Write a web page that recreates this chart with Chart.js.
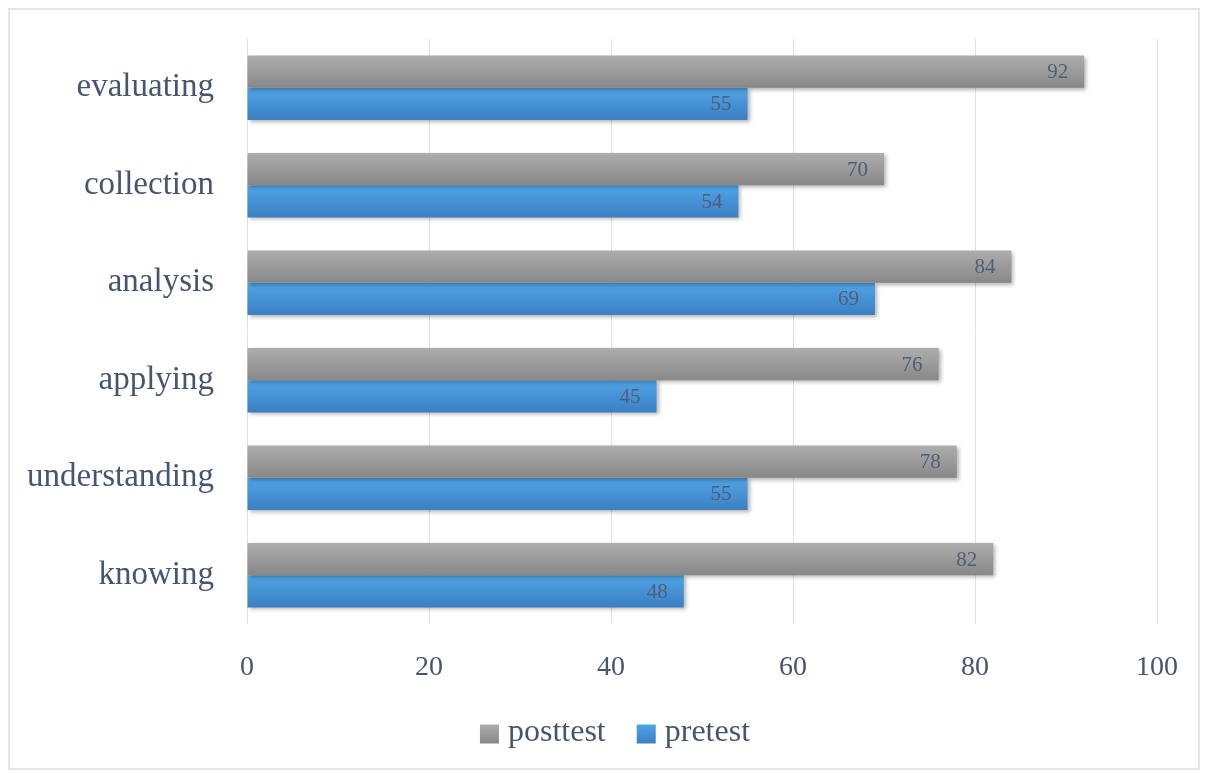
<!DOCTYPE html>
<html>
<head>
<meta charset="utf-8">
<script src="https://cdn.jsdelivr.net/npm/chart.js@4"></script>
<style>
  body { margin: 0; background: #fff; }
  #frame { position: absolute; left: 8px; top: 8px; width: 1188px; height: 758px; border: 2px solid #e1e6ec; }
  #wrap { position: absolute; left: 0; top: 0; width: 1206px; height: 773px; }
</style>
</head>
<body>
<div id="frame"></div>
<div id="wrap"><canvas id="chart" width="1206" height="773"></canvas></div>
<script>
const categories = ['evaluating', 'collection', 'analysis', 'applying', 'understanding', 'knowing'];
const posttest = [92, 70, 84, 76, 78, 82];
const pretest = [55, 54, 69, 45, 55, 48];
const xTicks = [0, 20, 40, 60, 80, 100];

const textColor = '#475670';
const serif = "'Liberation Serif', 'DejaVu Serif', serif";
const shades = [['#adadad', '#888888'], ['#50a4e6', '#3b80c3']];

function grad(c, i, top, bot) {
  const g = c.createLinearGradient(0, top, 0, bot);
  g.addColorStop(0, shades[i][0]);
  g.addColorStop(1, shades[i][1]);
  return g;
}

// gradient bars + shadow, like the excel look
const barLook = {
  id: 'barLook',
  beforeDatasetDraw(chart, args) {
    const c = chart.ctx;
    args.meta.data.forEach(bar => {
      bar.options.backgroundColor = grad(c, args.index, bar.y - bar.height / 2, bar.y + bar.height / 2);
    });
    c.save();
    c.shadowColor = 'rgba(0,0,0,0.3)';
    c.shadowBlur = 4;
    c.shadowOffsetX = 2;
    c.shadowOffsetY = 2;
  },
  afterDatasetDraw(chart) {
    chart.ctx.restore();
  }
};

const valueLabels = {
  id: 'valueLabels',
  afterDatasetsDraw(chart) {
    const c = chart.ctx;
    c.save();
    c.font = '21px ' + serif;
    c.fillStyle = '#515e78';
    c.textAlign = 'right';
    c.textBaseline = 'middle';
    chart.data.datasets.forEach((ds, i) => {
      chart.getDatasetMeta(i).data.forEach((bar, j) => {
        c.fillText(ds.data[j], bar.x - 16, bar.y + 1);
      });
    });
    c.restore();
  }
};

// legend drawn by hand so it sits where the excel one does
const bottomLegend = {
  id: 'bottomLegend',
  afterDraw(chart) {
    const c = chart.ctx;
    c.save();
    c.font = '32px ' + serif;
    c.textBaseline = 'middle';
    const box = 19, gap = 9, sep = 31, cy = 734;
    const items = chart.data.datasets.map(ds => ds.label);
    let total = 0;
    items.forEach((t, i) => { total += box + gap + c.measureText(t).width + (i ? sep : 0); });
    let x = 615 - total / 2;
    items.forEach((t, i) => {
      c.fillStyle = grad(c, i, cy - box / 2, cy + box / 2);
      c.fillRect(x, cy - box / 2, box, box);
      x += box + gap;
      c.fillStyle = textColor;
      c.fillText(t, x, cy - 1);
      x += c.measureText(t).width + sep;
    });
    c.restore();
  }
};

new Chart(document.getElementById('chart'), {
  type: 'bar',
  data: {
    labels: categories,
    datasets: [
      // scriptable colour so every bar gets its own options object
      { label: 'posttest', data: posttest, backgroundColor: () => '#999999' },
      { label: 'pretest', data: pretest, backgroundColor: () => '#4592d6' }
    ]
  },
  options: {
    indexAxis: 'y',
    responsive: false,
    animation: false,
    devicePixelRatio: 1,
    categoryPercentage: 0.66,
    barPercentage: 1,
    layout: { padding: { left: 0, right: 49, top: 39, bottom: 70 } },
    scales: {
      x: {
        min: 0, max: 100,
        afterBuildTicks: s => { s.ticks = xTicks.map(v => ({ value: v })); },
        afterFit: s => { s.height = 79; },
        grid: { color: '#dce2e9', lineWidth: 1, drawTicks: false },
        border: { display: false },
        ticks: { color: textColor, font: { family: serif, size: 28 }, padding: 27 }
      },
      y: {
        afterFit: s => { s.width = 247; s.paddingTop = 0; s.paddingBottom = 0; },
        grid: { display: false },
        border: { display: false },
        ticks: { color: textColor, font: { family: serif, size: 33 }, padding: 25 }
      }
    },
    plugins: {
      legend: { display: false },
      tooltip: { enabled: false }
    }
  },
  plugins: [barLook, valueLabels, bottomLegend]
});
</script>
</body>
</html>
